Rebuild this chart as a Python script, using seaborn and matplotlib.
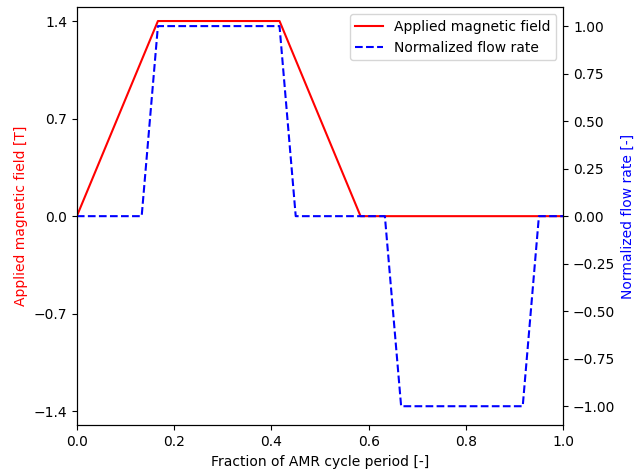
import numpy as np
import pandas as pd
import matplotlib
matplotlib.use('Agg')
import matplotlib.pyplot as plt
import seaborn as sns

# breakpoints
field_t = [0.0, 0.1667, 0.4167, 0.5833, 1.0]
field_B = [0.0, 1.4, 1.4, 0.0, 0.0]

flow_t = [0.0, 0.1333, 0.1667, 0.4167, 0.45, 0.6333, 0.6667, 0.9167, 0.95, 1.0]
flow_q = [0.0, 0.0, 1.0, 1.0, 0.0, 0.0, -1.0, -1.0, 0.0, 0.0]

left_ticks = [-1.4, -0.7, 0.0, 0.7, 1.4]

df_field = pd.DataFrame({'t': field_t, 'B': field_B})
df_flow = pd.DataFrame({'t': flow_t, 'q': flow_q})

fig, ax = plt.subplots(figsize=(6.35, 4.73), dpi=100)
fig.subplots_adjust(left=0.121, right=0.887, top=0.985, bottom=0.101)

sns.lineplot(data=df_field, x='t', y='B', ax=ax, color='red', linewidth=1.5,
             label='Applied magnetic field', sort=False, estimator=None, legend=False)
ax.set_xlim(0, 1)
ax.set_ylim(-1.5, 1.5)
ax.set_yticks(left_ticks)
ax.set_xlabel('Fraction of AMR cycle period [-]')
ax.set_ylabel('Applied magnetic field [T]', color='red')

ax2 = ax.twinx()
sns.lineplot(data=df_flow, x='t', y='q', ax=ax2, color='blue', linewidth=1.5,
             linestyle='--', label='Normalized flow rate', sort=False,
             estimator=None, legend=False)
ax2.set_ylim(-1.1, 1.1)
ax2.set_ylabel('Normalized flow rate [-]', color='blue')
ax2.set_xlim(0, 1)

h1, l1 = ax.get_legend_handles_labels()
h2, l2 = ax2.get_legend_handles_labels()
ax2.legend(h1 + h2, l1 + l2, loc='upper right')

fig.savefig('out.png', dpi=100)
